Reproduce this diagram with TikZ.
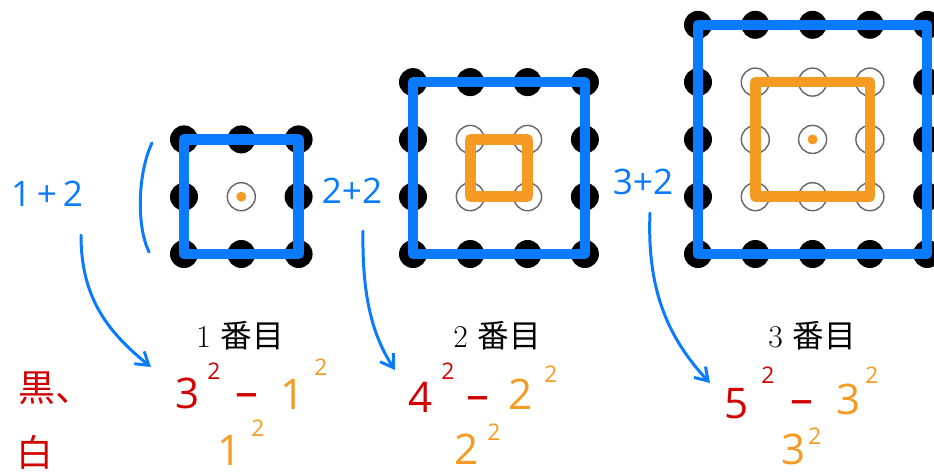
\documentclass[tikz,border=0pt]{standalone}
\usepackage{fontspec}
\newfontfamily\hand{Open Sans}
\newfontfamily\jpfont{Noto Sans CJK JP}
\usetikzlibrary{arrows.meta}
\definecolor{myblue}{RGB}{10,122,255}
\definecolor{myorange}{RGB}{245,155,35}
\definecolor{myred}{RGB}{210,0,0}
\begin{document}
\begin{tikzpicture}[x=0.02cm,y=-0.02cm,
  blackdot/.style={fill=black},
  whitedot/.style={fill=white,draw=black!60,line width=0.8pt},
  bluesq/.style={draw=myblue,line width=6pt,line join=round},
  orangesq/.style={draw=myorange,line width=6pt,line join=round},
  handarrow/.style={draw=myblue,line width=1.7pt,line cap=round,-{Straight Barb[length=7pt,width=9pt,line width=1.7pt]}},
  title/.style={font=\fontsize{18}{18}\selectfont, inner sep=0pt},
  big/.style={font=\hand\fontsize{24}{24}\selectfont, inner sep=0pt},
  minussign/.style={font=\hand\fontsize{26}{26}\selectfont, inner sep=0pt},
  sup/.style={font=\hand\fontsize{13}{13}\selectfont, inner sep=0pt},
  bluelbl/.style={font=\hand\fontsize{20}{20}\selectfont, text=myblue, inner sep=0pt},
  kanji/.style={font=\jpfont\fontsize{21}{21}\selectfont, text=myred, inner sep=0pt},
  redtxt/.style={text=myred},
  orangetxt/.style={text=myorange}]
\clip (0,0) rectangle (934,474);
% ---------- figure 1 (3x3) ----------
\foreach \i in {0,1,2}{
  \foreach \j in {0,1,2}{
    \pgfmathtruncatemacro\isb{(\i==0||\i==2||\j==0||\j==2)?1:0}
    \ifnum\isb=1
      \fill[blackdot] (184+57.3*\i,254-57.3*\j) circle[radius=0.28cm];
    \else
      \draw[whitedot] (184+57.3*\i,254-57.3*\j) circle[radius=0.28cm];
    \fi
  }}
\fill[myorange] (241.3,196.7) circle[radius=0.1cm];
\draw[bluesq] (184,139.4) rectangle (298.6,254);
% ---------- figure 2 (4x4) ----------
\foreach \i in {0,1,2,3}{
  \foreach \j in {0,1,2,3}{
    \pgfmathtruncatemacro\isb{(\i==0||\i==3||\j==0||\j==3)?1:0}
    \ifnum\isb=1
      \fill[blackdot] (413+57.3*\i,254-57.3*\j) circle[radius=0.28cm];
    \else
      \draw[whitedot] (413+57.3*\i,254-57.3*\j) circle[radius=0.28cm];
    \fi
  }}
\draw[bluesq] (413,82.1) rectangle (584.9,254);
\draw[orangesq] (470.3,139.4) rectangle (527.6,196.7);
% ---------- figure 3 (5x5) ----------
\foreach \i in {0,1,2,3,4}{
  \foreach \j in {0,1,2,3,4}{
    \pgfmathtruncatemacro\isb{(\i==0||\i==4||\j==0||\j==4)?1:0}
    \ifnum\isb=1
      \fill[blackdot] (698+57.3*\i,254-57.3*\j) circle[radius=0.28cm];
    \else
      \draw[whitedot] (698+57.3*\i,254-57.3*\j) circle[radius=0.28cm];
    \fi
  }}
\fill[myorange] (812.6,139.4) circle[radius=0.1cm];
\draw[bluesq] (698,24.8) rectangle (927.2,254);
\draw[orangesq] (755.3,82.1) rectangle (869.9,196.7);
% ---------- titles ----------
\node[title] (t1) at (240,336) {1\ {\jpfont 番目}};
\node[title] (t2) at (497,336) {2\ {\jpfont 番目}};
\node[title] (t3) at (812,336) {3\ {\jpfont 番目}};
% ---------- blue handwritten labels ----------
\node[bluelbl] (l1) at (47,194) {1\,+\,2};
\node[bluelbl] (l2) at (352,191) {2+2};
\node[bluelbl] (l3) at (643,182) {3+2};
\draw[myblue,line width=1.7pt,line cap=round] (152,143) .. controls (138,172) and (136,225) .. (149,252);
\coordinate (a1s) at (81,235);
\coordinate (a1e) at (151,367);
\coordinate (a2s) at (363,231);
\coordinate (a2e) at (395,370);
\coordinate (a3s) at (650,213);
\coordinate (a3e) at (710,383);
\draw[handarrow] (a1s) .. controls (81,295) and (105,330) .. (a1e);
\draw[handarrow] (a2s) .. controls (362,295) and (372,335) .. (a2e);
\draw[handarrow] (a3s) .. controls (647,285) and (665,335) .. (a3e);
% ---------- left labels ----------
\node[kanji] (kuro) at (55,388) {黒、};
\node[kanji] (shiro) at (35,452) {白};
% ---------- figure 1 expressions ----------
\node[big,redtxt] (e1a) at (188,393) {3};
\node[sup,redtxt] (e1as) at (214,371) {2};
\node[minussign,redtxt] (e1m) at (247,401) {–};
\node[big,orangetxt] (e1b) at (293,394) {1};
\node[sup,orangetxt] (e1bs) at (321,367) {2};
\node[big,orangetxt] (w1) at (230,450) {1};
\node[sup,orangetxt] (w1s) at (258,428) {2};
% ---------- figure 2 expressions ----------
\node[big,redtxt] (e2a) at (421,397) {4};
\node[sup,redtxt] (e2as) at (448,371) {2};
\node[minussign,redtxt] (e2m) at (478,404) {–};
\node[big,orangetxt] (e2b) at (521,394) {2};
\node[sup,orangetxt] (e2bs) at (551,374) {2};
\node[big,orangetxt] (w2) at (467,449) {2};
\node[sup,orangetxt] (w2s) at (494,432) {2};
% ---------- figure 3 expressions ----------
\node[big,redtxt] (e3a) at (737,404) {5};
\node[sup,redtxt] (e3as) at (768,375) {2};
\node[minussign,redtxt] (e3m) at (802,408) {–};
\node[big,orangetxt] (e3b) at (849,399) {3};
\node[sup,orangetxt] (e3bs) at (872,375) {2};
\node[big,orangetxt] (w3) at (794,449) {3};
\node[sup,orangetxt] (w3s) at (815,436) {2};
\end{tikzpicture}
\end{document}
